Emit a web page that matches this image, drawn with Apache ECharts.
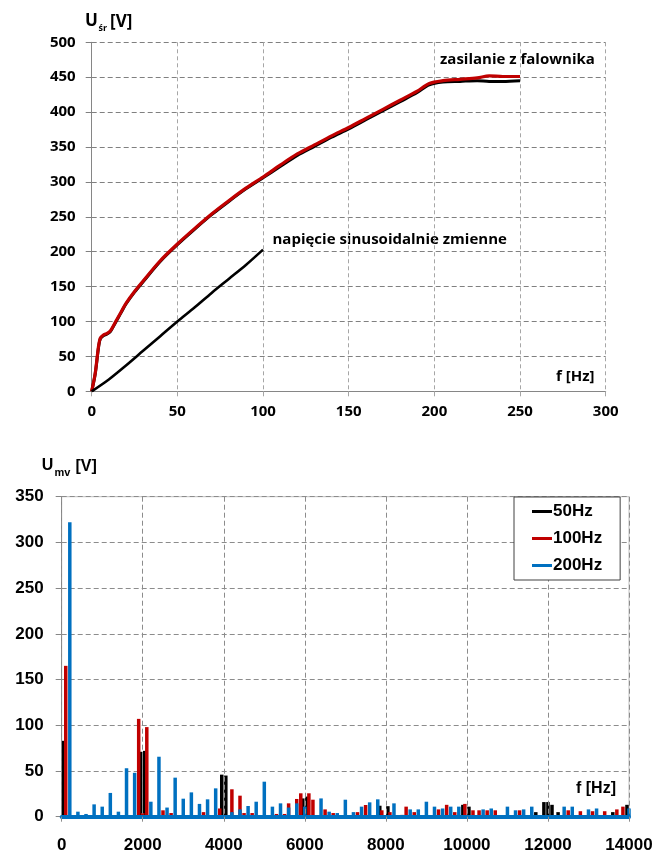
<!DOCTYPE html>
<html>
<head>
<meta charset="utf-8">
<script src="https://cdn.jsdelivr.net/npm/echarts@6/dist/echarts.min.js"></script>
<style>
html,body{margin:0;padding:0;background:#fff;}
#c{width:657px;height:855px;}
</style>
</head>
<body>
<div id="c"></div>
<script>
// ---- Top chart: U_sr vs f ----
const falownikRed = [[0,0],[2,25],[4,65],[5,76],[7,81],[9,83],[11,87],[14,100],[17,113],[20,126],[25,143],[30,158],[40,187],[50,211],[60,233],[70,254],[80,273],[90,291],[100,307],[110,324],[120,340],[130,353],[140,366],[150,378],[160,391],[170,404],[180,417],[190,430],[197,441],[205,445],[215,447],[225,449],[232,452],[240,451],[250,451]];
const falownikBlack = [[0,0],[2,24],[4,63],[5,75],[7,80],[9,82],[11,86],[14,99],[17,112],[20,125],[25,142],[30,157],[40,186],[50,210],[60,232],[70,253],[80,272],[90,290],[100,306],[110,322],[120,338],[130,351],[140,364],[150,376],[160,389],[170,402],[180,415],[190,428],[197,439],[205,443],[215,444],[225,445],[232,444],[240,444],[250,445]];
const sinusBlack = [[0,0],[10,17],[20,37],[30,58],[40,79],[50,100],[60,120],[70,141],[80,161],[90,181],[100,203]];

// ---- Bottom chart: spectrum U_mv vs f ----
const spectrum50 = [[50,83],[1950,71],[2050,72],[3950,46],[4050,45],[5950,20],[6050,22],[7850,12],[8050,11.5],[9900,13],[10050,11],[11700,5],[11900,16],[12000,16],[12100,13],[12250,5],[13600,5],[13950,13]];
const spectrum100 = [[100,165],[1900,107],[2000,4],[2100,98],[2500,7],[2700,4],[3500,5],[3900,9],[4200,30],[4400,23],[4500,4],[4700,4],[5300,3],[5500,3],[5600,14.6],[5800,19.4],[5900,25.6],[6100,25.6],[6200,18.6],[6500,8],[6700,4],[7300,5],[7500,12.8],[7900,7],[8100,5],[8400,2],[8500,11],[8700,5],[9300,8],[9500,13],[9700,5],[9950,14],[10150,7],[10300,7],[10500,7],[10700,7],[11300,7],[12500,7],[12800,6],[13100,6],[13400,6],[13700,8],[13850,11]];
const spectrum200 = [[200,322],[400,5.5],[600,3],[800,13.5],[1000,11],[1200,26],[1400,5.5],[1600,53],[1800,48],[2200,16.4],[2400,65.6],[2600,10],[2800,42.7],[3000,19.7],[3200,26.6],[3400,14],[3600,19],[3800,31],[4200,5],[4400,8],[4600,11.7],[4800,16.4],[5000,38.3],[5200,11],[5400,14.6],[5600,10],[5800,14.6],[6000,11],[6400,20],[6600,5.5],[6800,4],[7000,18.6],[7200,5],[7400,11],[7600,15.7],[7800,19],[8200,14.6],[8600,8],[8800,8],[9000,16.4],[9200,11],[9400,9],[9600,11],[9800,11],[10400,8],[10600,9],[11000,11],[11200,7],[11400,8],[11600,11],[12400,11],[12600,11],[13000,8],[13200,9],[14000,9]];

const seriesNames = ['50Hz','100Hz','200Hz'];
const annotTop = 'zasilanie z falownika';
const annotBottom = 'napięcie sinusoidalnie zmienne';

const topFont = '"Open Sans"';
const botFont = '"Liberation Sans", Arial';
const RED = '#C00000', BLACK = '#000000', BLUE = '#0070C0';

const chart = echarts.init(document.getElementById('c'), null, {renderer:'canvas'});
chart.setOption({
  animation:false,
  backgroundColor:'#fff',
  grid:[
    {left:91.7, right:51.3, top:42.3, bottom:463.7, containLabel:false},
    {left:61.7, right:28, top:496.7, bottom:38.3, containLabel:false, show:true, borderColor:'#BFBFBF', borderWidth:1, backgroundColor:'transparent'}
  ],
  xAxis:[
    {gridIndex:0, type:'value', min:0, max:300, interval:50,
     axisLine:{show:true, onZero:false, lineStyle:{color:'#868686', width:1}},
     axisTick:{show:true, length:5, lineStyle:{color:'#A6A6A6'}},
     axisLabel:{margin:13, color:'#000', fontFamily:topFont, fontWeight:'bold', fontSize:15},
     splitLine:{show:true, lineStyle:{color:'#A6A6A6', type:[4,3], width:1}}},
    {gridIndex:1, type:'value', min:0, max:14000, interval:2000, z:3,
     axisLine:{show:true, onZero:false, lineStyle:{color:BLUE, width:4}},
     axisTick:{show:true, length:5, lineStyle:{color:'#8C8C8C'}},
     axisLabel:{margin:20, color:'#000', fontFamily:botFont, fontWeight:'bold', fontSize:17, formatter:function(v){return String(v);}},
     splitLine:{show:true, lineStyle:{color:'#8C8C8C', type:[5,3], width:1}}}
  ],
  yAxis:[
    {gridIndex:0, type:'value', min:0, max:500, interval:50,
     axisLine:{show:true, lineStyle:{color:'#868686', width:1}},
     axisTick:{show:true, length:6, lineStyle:{color:'#808080'}},
     axisLabel:{margin:16, color:'#000', fontFamily:topFont, fontWeight:'bold', fontSize:15},
     splitLine:{show:true, lineStyle:{color:'#808080', type:[5,3], width:1}}},
    {gridIndex:1, type:'value', min:0, max:350, interval:50,
     axisLine:{show:true, lineStyle:{color:'#868686', width:1}},
     axisTick:{show:true, length:6, lineStyle:{color:'#868686'}},
     axisLabel:{margin:18, color:'#000', fontFamily:botFont, fontWeight:'bold', fontSize:17},
     splitLine:{show:true, lineStyle:{color:'#8C8C8C', type:[5,3], width:1}}}
  ],
  legend:{
    data:seriesNames, orient:'vertical', left:514, top:497,
    backgroundColor:'#fff', borderColor:'#404040', borderWidth:1,
    padding:[6,18,6,18], itemGap:10, itemWidth:20, itemHeight:3, icon:'rect',
    textStyle:{color:'#000', fontFamily:botFont, fontWeight:'bold', fontSize:17, padding:[0,0,0,-4]}
  },
  series:[
    {type:'line', name:'falownik_black', xAxisIndex:0, yAxisIndex:0, data:falownikBlack, smooth:0.3, showSymbol:false, lineStyle:{color:BLACK, width:3}, z:3},
    {type:'line', name:'falownik_red', xAxisIndex:0, yAxisIndex:0, data:falownikRed, smooth:0.3, showSymbol:false, lineStyle:{color:RED, width:3.2}, z:4},
    {type:'line', name:'sinus_black', xAxisIndex:0, yAxisIndex:0, data:sinusBlack, smooth:0.3, showSymbol:false, lineStyle:{color:BLACK, width:2.6}, z:4},
    {type:'bar', name:seriesNames[0], xAxisIndex:1, yAxisIndex:1, data:spectrum50, barWidth:3.5, barGap:'-100%', itemStyle:{color:BLACK}},
    {type:'bar', name:seriesNames[1], xAxisIndex:1, yAxisIndex:1, data:spectrum100, barWidth:3.5, barGap:'-100%', itemStyle:{color:RED}},
    {type:'bar', name:seriesNames[2], xAxisIndex:1, yAxisIndex:1, data:spectrum200, barWidth:3.5, barGap:'-100%', itemStyle:{color:BLUE}}
  ],
  graphic:[
    {type:'text', style:{text:'U', x:85, y:30, fill:'#000', font:'bold 17px '+topFont, verticalAlign:'bottom'}},
    {type:'text', style:{text:'śr', x:98.5, y:33, fill:'#000', font:'bold 9px '+topFont, verticalAlign:'bottom'}},
    {type:'text', style:{text:'[V]', x:110, y:31, fill:'#000', font:'bold 17px '+topFont, verticalAlign:'bottom'}},
    {type:'text', style:{text:annotTop, x:440, y:59.5, fill:'#000', font:'bold 15px '+topFont, verticalAlign:'middle'}},
    {type:'text', style:{text:annotBottom, x:272.5, y:240, fill:'#000', font:'bold 15px '+topFont, verticalAlign:'middle'}},
    {type:'text', style:{text:'f [Hz]', x:556, y:377, fill:'#000', font:'bold 15px '+topFont, verticalAlign:'middle'}},
    {type:'text', style:{text:'U', x:41.7, y:474, fill:'#000', font:'bold 16px '+botFont, verticalAlign:'bottom'}},
    {type:'text', style:{text:'mv', x:54.5, y:478, fill:'#000', font:'bold 11px '+botFont, verticalAlign:'bottom'}},
    {type:'text', style:{text:'[V]', x:75.5, y:475, fill:'#000', font:'bold 16px '+botFont, verticalAlign:'bottom'}},
    {type:'text', style:{text:'f [Hz]', x:576, y:788.5, fill:'#000', font:'bold 16px '+botFont, verticalAlign:'middle'}}
  ]
});
</script>
</body>
</html>
